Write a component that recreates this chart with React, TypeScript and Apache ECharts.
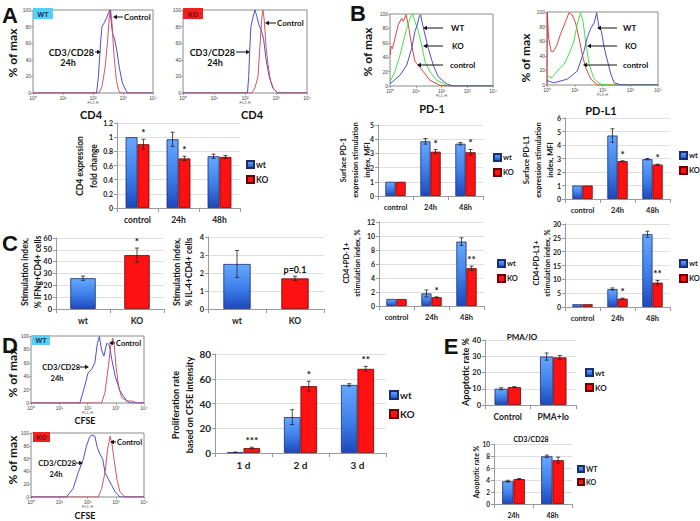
import React, { useEffect, useRef } from "react";
import * as echarts from "echarts";

const FONT = 'Lato, "Liberation Sans", Arial, sans-serif';
const ARIAL = '"Liberation Sans", Arial, sans-serif';
const SUP = ["\u2070", "\u00b9", "\u00b2", "\u00b3", "\u2074"];

// ---------- Flow histograms: [log10 intensity, % of max] ----------
const aWtStim = [[0,0],[2.12,0],[2.18,20],[2.25,60],[2.3,80],[2.38,85],[2.45,90],[2.52,97],[2.56,100],[2.6,88],[2.65,72],[2.72,65],[2.8,50],[2.88,30],[2.98,12],[3.1,3],[3.16,0],[4,0]];
const aWtCtrl = [[0,0],[2.2,0],[2.3,8],[2.4,30],[2.48,60],[2.55,95],[2.59,100],[2.63,85],[2.7,45],[2.78,15],[2.85,4],[2.9,0],[4,0]];
const aKoStim = [[0,0],[2.08,0],[2.12,20],[2.15,50],[2.19,80],[2.25,90],[2.32,100],[2.38,93],[2.45,82],[2.52,76],[2.6,65],[2.68,40],[2.78,20],[2.9,6],[3.06,0],[4,0]];
const aKoCtrl = [[0,0],[2.22,0],[2.32,6],[2.42,20],[2.48,55],[2.54,90],[2.58,100],[2.62,88],[2.68,55],[2.74,35],[2.82,15],[2.92,5],[3.06,0],[4,0]];

const pd1Ctrl = [[0,43],[0.05,55],[0.1,52],[0.19,66],[0.32,85],[0.45,94],[0.52,90],[0.62,99],[0.71,85],[0.84,57],[0.97,34],[1.1,29],[1.29,20],[1.55,8],[1.94,1],[2.3,0],[4,0]];
const pd1Ko = [[0,6],[0.19,20],[0.39,43],[0.52,62],[0.65,80],[0.78,94],[0.88,100],[0.97,90],[1.1,76],[1.23,57],[1.36,34],[1.55,20],[1.81,8],[2.2,1],[2.5,0],[4,0]];
const pd1Wt = [[0,3],[0.39,15],[0.65,29],[0.84,52],[0.97,76],[1.06,85],[1.14,97],[1.19,99],[1.27,85],[1.36,71],[1.49,52],[1.68,29],[1.87,13],[2.2,3],[2.45,0],[4,0]];

const pdl1Ctrl = [[0,0],[0.01,100],[0.06,64],[0.15,46],[0.24,46],[0.36,55],[0.48,69],[0.67,87],[0.79,99],[0.91,96],[1.03,85],[1.15,65],[1.27,42],[1.39,24],[1.58,8],[1.82,0],[4,0]];
const pdl1Ko = [[0,12],[0.18,10],[0.36,19],[0.61,28],[0.79,42],[0.97,60],[1.09,83],[1.21,99],[1.3,87],[1.39,60],[1.52,28],[1.7,8],[1.94,1],[2.2,0],[4,0]];
const pdl1Wt = [[0,6],[0.24,3],[0.73,8],[1.09,19],[1.33,46],[1.45,65],[1.58,78],[1.7,85],[1.79,99],[1.88,78],[1.96,74],[2.06,51],[2.18,33],[2.3,15],[2.42,3],[2.67,0],[4,0]];

const dWtStim = [[0,0],[1.73,0],[1.9,25],[2.02,45],[2.14,50],[2.26,60],[2.35,89],[2.42,99],[2.5,79],[2.58,70],[2.68,89],[2.77,87],[2.86,65],[2.98,40],[3.15,18],[3.39,3],[3.51,0],[4,0]];
const dWtCtrl = [[0,0],[2.5,0],[2.62,16],[2.74,55],[2.82,84],[2.89,97],[2.94,89],[3.01,55],[3.1,25],[3.21,8],[3.39,3],[3.57,3],[3.75,0],[4,0]];
const dKoStim = [[0,0],[1.25,0],[1.49,13],[1.67,38],[1.85,59],[1.96,79],[2.06,92],[2.14,97],[2.26,95],[2.35,77],[2.44,67],[2.54,59],[2.62,38],[2.74,28],[2.86,18],[2.98,8],[3.15,0],[4,0]];
const dKoCtrl = [[0,0],[2.38,0],[2.5,13],[2.62,38],[2.71,74],[2.8,95],[2.86,85],[2.94,59],[3.04,28],[3.15,8],[3.33,0],[4,0]];

const histTicks = [0, 1, 2, 3, 4];

// ---------- Bar charts ----------
const timeCats = ["control", "24h", "48h"];

const aWt = [1.0, 0.97, 0.73];
const aWtErr = [0, 0.1, 0.03];
const aKo = [0.9, 0.7, 0.72];
const aKoErr = [0.07, 0.03, 0.02];
const aKoMarks = ["*", "*", ""];

const pd1BarWt = [1, 3.85, 3.68];
const pd1BarWtErr = [0, 0.2, 0.08];
const pd1BarKo = [1, 3.12, 3.08];
const pd1BarKoErr = [0, 0.15, 0.2];
const pd1Marks = ["", "*", "*"];

const pdl1BarWt = [1, 4.7, 2.95];
const pdl1BarWtErr = [0, 0.5, 0.05];
const pdl1BarKo = [1, 2.8, 2.55];
const pdl1BarKoErr = [0, 0.03, 0.03];
const pdl1Marks = ["", "*", "*"];

const cd4pd1Wt = [1, 1.8, 9.2];
const cd4pd1WtErr = [0, 0.5, 0.55];
const cd4pd1Ko = [1, 1.25, 5.4];
const cd4pd1KoErr = [0, 0.05, 0.3];
const cd4pd1Marks = ["", "*", "**"];

const cd4pdl1Wt = [1, 6.5, 26.3];
const cd4pdl1WtErr = [0, 0.4, 1.1];
const cd4pdl1Ko = [1, 3.0, 8.8];
const cd4pdl1KoErr = [0, 0.2, 0.8];
const cd4pdl1Marks = ["", "*", "**"];

const genoCats = ["wt", "KO"];
const ifngVals = [26, 45.5];
const ifngErr = [1.8, 6];
const ifngMarks = ["", "*"];
const il4Vals = [2.5, 1.7];
const il4Err = [0.75, 0.12];
const il4Marks = ["", "p=0.1"];

const dayCats = ["1 d", "2 d", "3 d"];
const profWt = [0.6, 29, 55];
const profWtErr = [0.2, 6, 1];
const profKo = [4, 54, 68];
const profKoErr = [0.6, 4, 2];
const profMarks = ["***", "*", "**"];

const pmaCats = ["Control", "PMA+Io"];
const pmaWt = [10, 29.8];
const pmaWtErr = [0.6, 2.2];
const pmaKo = [11, 29.3];
const pmaKoErr = [0.3, 1.2];

const cd3Cats = ["24h", "48h"];
const cd3Wt = [3.8, 7.95];
const cd3WtErr = [0.15, 0.2];
const cd3Ko = [4.15, 7.3];
const cd3KoErr = [0.1, 0.5];

// ---------- styling ----------
const BLUE_FILL = {
  type: "linear", x: 0, y: 0, x2: 0, y2: 1,
  colorStops: [
    { offset: 0, color: "#66a8ff" },
    { offset: 0.55, color: "#3c7ee8" },
    { offset: 1, color: "#1d48bd" },
  ],
};
const BLUE_BORDER = "#1c2c6c";
const RED_FILL = "#ff1111";
const RED_BORDER = "#6b0000";
const H_BLUE = "#3a3ac8";
const H_RED = "#c8445a";
const H_GREEN = "#33dd33";
const H_RED2 = "#cc3333";

function buildOption() {
  const grids: any[] = [];
  const xAxes: any[] = [];
  const yAxes: any[] = [];
  const series: any[] = [];
  const legends: any[] = [];
  const graphics: any[] = [];

  const addHist = (left: number, top: number, width: number, height: number, fl: string, lines: [number[][], string][]) => {
    const gi = grids.length;
    grids.push({ left, top, width, height, show: true, borderColor: "#8a8a8a", borderWidth: 1, backgroundColor: "#fff" });
    xAxes.push({
      gridIndex: gi, type: "value", min: 0, max: 4, interval: 1,
      name: fl, nameLocation: "middle", nameGap: 6,
      nameTextStyle: { fontSize: 4, color: "#555", fontFamily: ARIAL },
      axisLine: { show: false },
      axisTick: { show: true, length: 2, lineStyle: { color: "#777", width: 0.6 } },
      axisLabel: { fontSize: 5, color: "#444", margin: 2, fontFamily: ARIAL, formatter: (v: number) => "10" + SUP[histTicks.indexOf(v)] },
      splitLine: { show: false },
    });
    yAxes.push({
      gridIndex: gi, type: "value", min: 0, max: 100, interval: 20,
      axisLine: { show: false },
      axisTick: { show: true, length: 2, lineStyle: { color: "#777", width: 0.6 } },
      axisLabel: { fontSize: 5, color: "#444", margin: 2, fontFamily: ARIAL },
      splitLine: { show: false },
    });
    lines.forEach(([data, color]) => {
      series.push({
        type: "line", xAxisIndex: gi, yAxisIndex: gi, data, symbol: "none", showSymbol: false,
        lineStyle: { width: 0.9, color }, itemStyle: { color }, silent: true, z: 3,
      });
    });
  };

  const errSeries = (gi: number, vals: number[], errs: number[], marks: string[], off: number, markSize: number) => ({
    type: "custom", xAxisIndex: gi, yAxisIndex: gi, silent: true, z: 6, clip: false,
    data: vals.map((v, i) => [i, v, errs[i]]),
    encode: { x: 0, y: 1 },
    renderItem: (params: any, api: any) => {
      const i = api.value(0), v = api.value(1), e = api.value(2);
      const w = api.size([1, 0])[0];
      const x = api.coord([i, v])[0] + off * w;
      const yTop = api.coord([i, v + e])[1];
      const yBot = api.coord([i, v - e])[1];
      const children: any[] = [];
      if (e > 0) {
        const st = { stroke: "#222", lineWidth: 0.8 };
        children.push({ type: "line", shape: { x1: x, y1: yTop, x2: x, y2: yBot }, style: st });
        children.push({ type: "line", shape: { x1: x - 2, y1: yTop, x2: x + 2, y2: yTop }, style: st });
        children.push({ type: "line", shape: { x1: x - 2, y1: yBot, x2: x + 2, y2: yBot }, style: st });
      }
      const m = marks[params.dataIndex];
      if (m) {
        children.push({
          type: "text",
          style: {
            text: m, x, y: yTop - 2, textAlign: "center", textVerticalAlign: "bottom", align: "center", verticalAlign: "bottom",
            fontSize: markSize, fontWeight: "bold", fontFamily: FONT, fill: "#111",
          },
        });
      }
      return { type: "group", children };
    },
  });

  const barAxes = (gi: number, cats: string[], max: number, interval: number, yFont: number, xFont: number) => {
    xAxes.push({
      gridIndex: gi, type: "category", data: cats,
      axisLine: { lineStyle: { color: "#9a9a9a", width: 1 } },
      axisTick: { show: true, length: 4, lineStyle: { color: "#9a9a9a" } },
      axisLabel: { fontSize: xFont, fontWeight: "bold", color: "#222", fontFamily: FONT, margin: 7 },
    });
    yAxes.push({
      gridIndex: gi, type: "value", min: 0, max, interval,
      axisLine: { show: true, lineStyle: { color: "#9a9a9a" } },
      axisTick: { show: true, length: 3, lineStyle: { color: "#9a9a9a" } },
      axisLabel: { fontSize: yFont, fontWeight: "bold", color: "#222", fontFamily: FONT, margin: 4 },
      splitLine: { lineStyle: { color: "#d6d6d6", width: 0.8 } },
    });
  };

  const addBars = (
    box: [number, number, number, number], cats: string[], max: number, interval: number,
    yFont: number, xFont: number, names: [string, string],
    wt: number[], wtErr: number[], ko: number[], koErr: number[], koMarks: string[], markSize: number,
    legend: { left: number; top: number; size: number; gap: number; icon: number } | null
  ) => {
    const gi = grids.length;
    grids.push({ left: box[0], top: box[1], width: box[2], height: box[3] });
    barAxes(gi, cats, max, interval, yFont, xFont);
    const gap = "42%";
    series.push({
      type: "bar", name: names[0], xAxisIndex: gi, yAxisIndex: gi, data: wt, barGap: "0%", barCategoryGap: gap,
      itemStyle: { color: BLUE_FILL, borderColor: BLUE_BORDER, borderWidth: 0.8 }, silent: true,
    });
    series.push({
      type: "bar", name: names[1], xAxisIndex: gi, yAxisIndex: gi, data: ko, barGap: "0%", barCategoryGap: gap,
      itemStyle: { color: RED_FILL, borderColor: RED_BORDER, borderWidth: 0.8 }, silent: true,
    });
    const off = (1 - 0.42) / 4;
    series.push(errSeries(gi, wt, wtErr, wt.map(() => ""), -off, markSize));
    series.push(errSeries(gi, ko, koErr, koMarks, off, markSize));
    if (legend) {
      legends.push({
        data: names, orient: "vertical", left: legend.left, top: legend.top, itemWidth: legend.icon, itemHeight: legend.icon,
        itemGap: legend.gap, icon: "rect", selectedMode: false, padding: 0,
        textStyle: { fontSize: legend.size, fontWeight: "bold", fontFamily: FONT, color: "#222", padding: [0, 0, 0, -3] },
      });
    }
  };

  const addSingleBars = (box: [number, number, number, number], max: number, interval: number, vals: number[], errs: number[], marks: string[], markSize: number) => {
    const gi = grids.length;
    grids.push({ left: box[0], top: box[1], width: box[2], height: box[3] });
    barAxes(gi, genoCats, max, interval, 7.5, 8.5);
    series.push({
      type: "bar", xAxisIndex: gi, yAxisIndex: gi, barCategoryGap: "53%", silent: true,
      data: vals.map((v, i) => ({
        value: v,
        itemStyle: i === 0
          ? { color: BLUE_FILL, borderColor: BLUE_BORDER, borderWidth: 0.8 }
          : { color: RED_FILL, borderColor: RED_BORDER, borderWidth: 0.8 },
      })),
    });
    series.push(errSeries(gi, vals, errs, marks, 0, markSize));
  };

  // Histograms
  addHist(33, 10, 120, 83, "FL2-H", [[aWtStim, H_BLUE], [aWtCtrl, H_RED]]);
  addHist(183, 10, 124, 83, "FL2-H", [[aKoStim, H_BLUE], [aKoCtrl, H_RED]]);
  addHist(390, 14, 103, 72, "FL1-H", [[pd1Ctrl, H_RED2], [pd1Ko, H_GREEN], [pd1Wt, H_BLUE]]);
  addHist(547, 12, 111, 73, "FL3-H", [[pdl1Ctrl, H_RED2], [pdl1Ko, H_GREEN], [pdl1Wt, H_BLUE]]);
  addHist(31, 336, 113, 67, "FL1-H", [[dWtStim, H_BLUE], [dWtCtrl, H_RED]]);
  addHist(31, 433, 113, 64, "FL1-H", [[dKoStim, H_BLUE], [dKoCtrl, H_RED]]);

  // Bars
  addBars([117, 123, 123, 85], timeCats, 1.2, 0.2, 7, 8.5, ["wt", "KO"], aWt, aWtErr, aKo, aKoErr, aKoMarks, 10,
    { left: 246, top: 160, size: 8.5, gap: 6, icon: 7 });
  addBars([378, 125, 105, 71], timeCats, 5, 1, 7, 7.5, ["wt", "KO"], pd1BarWt, pd1BarWtErr, pd1BarKo, pd1BarKoErr, pd1Marks, 10,
    { left: 493, top: 153, size: 7.5, gap: 6, icon: 7 });
  addBars([565, 118, 105, 81], timeCats, 6, 1, 7, 7.5, ["wt", "KO"], pdl1BarWt, pdl1BarWtErr, pdl1BarKo, pdl1BarKoErr, pdl1Marks, 10,
    { left: 679, top: 151, size: 7.5, gap: 6, icon: 7 });
  addBars([379, 222, 105, 84], timeCats, 12, 2, 7, 7.5, ["wt", "KO"], cd4pd1Wt, cd4pd1WtErr, cd4pd1Ko, cd4pd1KoErr, cd4pd1Marks, 10,
    { left: 497, top: 259, size: 7.5, gap: 6, icon: 7 });
  addBars([565, 224, 105, 83], timeCats, 30, 5, 7, 7.5, ["wt", "KO"], cd4pdl1Wt, cd4pdl1WtErr, cd4pdl1Ko, cd4pdl1KoErr, cd4pdl1Marks, 10,
    { left: 679, top: 259, size: 7.5, gap: 6, icon: 7 });
  addSingleBars([56, 238, 108, 71], 60, 10, ifngVals, ifngErr, ifngMarks, 10);
  addSingleBars([208, 237, 116, 72], 4, 1, il4Vals, il4Err, il4Marks, 9);
  addBars([215, 354, 171, 99], dayCats, 80, 20, 10, 10, ["wt", "KO"], profWt, profWtErr, profKo, profKoErr, profMarks, 10,
    { left: 389, top: 390, size: 10, gap: 9, icon: 8 });
  addBars([485, 340, 91, 65], pmaCats, 40, 10, 7.5, 8.5, ["wt", "KO"], pmaWt, pmaWtErr, pmaKo, pmaKoErr, ["", ""], 10,
    { left: 585, top: 368, size: 8, gap: 6, icon: 7 });
  addBars([494, 444, 78, 60], cd3Cats, 10, 2, 6.5, 7, ["WT", "KO"], cd3Wt, cd3WtErr, cd3Ko, cd3KoErr, ["", ""], 10,
    { left: 577, top: 465, size: 7, gap: 5, icon: 6 });

  // ---------- graphic texts ----------
  const t = (text: string, x: number, y: number, size: number, align = "center", font = FONT, fill = "#111") => ({
    type: "text", x, y, z: 100, silent: true,
    style: { text, fontSize: size, fontWeight: "bold", fontFamily: font, fill, textAlign: align, align, textVerticalAlign: "middle", verticalAlign: "middle" },
  });
  const rot = (text: string, x: number, y: number, size: number, lh = size * 1.3) => ({
    type: "text", x, y, z: 100, silent: true, rotation: Math.PI / 2,
    style: { text, fontSize: size, fontWeight: "bold", fontFamily: FONT, fill: "#111", lineHeight: lh, textAlign: "center", align: "center", textVerticalAlign: "middle", verticalAlign: "middle" },
  });
  const arrow = (x1: number, y1: number, x2: number, y2: number) => {
    const d = Math.sign(x2 - x1);
    return [
      { type: "line", z: 100, silent: true, shape: { x1, y1, x2: x2 - d * 2, y2 }, style: { stroke: "#111", lineWidth: 1 } },
      { type: "polygon", z: 100, silent: true, shape: { points: [[x2, y2], [x2 - d * 4, y2 - 2.2], [x2 - d * 4, y2 + 2.2]] }, style: { fill: "#111" } },
    ];
  };
  const box = (x: number, y: number, w: number, h: number, fill: string, label: string, color: string) => [
    { type: "rect", z: 99, silent: true, shape: { x, y, width: w, height: h }, style: { fill } },
    t(label, x + w / 2, y + h / 2 + 0.5, 7, "center", ARIAL, color),
  ];

  graphics.push(
    t("A", 10, 15, 22, "center", ARIAL), t("B", 358, 13, 22, "center", ARIAL), t("C", 10, 243, 22, "center", ARIAL),
    t("D", 10, 345, 22, "center", ARIAL), t("E", 451, 346, 22, "center", ARIAL),
    ...box(33, 8, 20, 11, "#55d0f2", "WT", "#1b2f6b"),
    ...box(183, 8, 20, 11, "#ee2020", "KO", "#7a0a0a"),
    ...box(32, 335, 18, 10, "#55d0f2", "WT", "#1b2f6b"),
    ...box(33, 432, 17, 10, "#ee2020", "KO", "#7a0a0a"),
    rot("% of max", 12, 53, 12), rot("% of max", 367, 52, 12), rot("% of max", 525, 58, 12),
    rot("% of max", 12, 373, 12), rot("% of max", 12, 460, 12),
    t("CD4", 91, 114, 11), t("CD4", 252, 114, 11), t("PD-1", 432, 108, 11), t("PD-L1", 601, 110, 11),
    t("CFSE", 85, 420, 9), t("CFSE", 85, 515, 9),
    // A arrows
    ...arrow(123, 17, 113, 17), t("Control", 124, 17, 8, "left"),
    t("CD3/CD28", 94, 52, 9, "right"), ...arrow(95, 52, 101, 52), t("24h", 68, 62, 9),
    ...arrow(276, 23, 265, 23), t("Control", 277, 23, 8, "left"),
    t("CD3/CD28", 235, 52, 9, "right"), ...arrow(236, 52, 250, 52), t("24h", 215, 62, 9),
    // B arrows
    ...arrow(443, 28, 423, 28), t("WT", 451, 28, 8, "left"),
    ...arrow(443, 46, 423, 46), t("KO", 452, 46, 8, "left"),
    ...arrow(443, 65, 417, 65), t("control", 450, 65, 8, "left"),
    ...arrow(617, 28, 597, 28), t("WT", 623, 28, 8, "left"),
    ...arrow(617, 46, 587, 46), t("KO", 625, 46, 8, "left"),
    ...arrow(617, 65, 583, 65), t("control", 623, 65, 8, "left"),
    // D arrows
    ...arrow(115, 343, 109, 343), t("Control", 116, 343, 7.5, "left"),
    t("CD3/CD28", 80, 367, 7.5, "right"), ...arrow(80, 367, 89, 367), t("24h", 57, 378, 7.5),
    ...arrow(116, 442, 110, 442), t("Control", 117, 442, 7.5, "left"),
    t("CD3/CD28", 76, 463, 7.5, "right"), ...arrow(76, 463, 83, 463), t("24h", 56, 474, 7.5),
    // y-axis names
    rot("CD4 expression\nfold change", 87, 166, 8.5, 14),
    rot("Surface PD-1\nexpression stimulation\nindex, MFI", 355, 160, 7.5, 12),
    rot("Surface PD-L1\nexpression stimulation\nindex, MFI", 538, 160, 7.5, 12),
    rot("CD4+PD-1+\nstimulation index, %", 352, 263, 7.5, 11),
    rot("CD4+PD-L1+\nstimulation index, %", 542, 263, 7.5, 11),
    rot("Stimulation index,\n% IFNg+CD4+ cells", 31, 272, 8.5, 13),
    rot("Stimulation index,\n% IL-4+CD4+ cells", 183, 272, 8.5, 12),
    rot("Proliferation rate\nbased on CFSE intensity", 182, 405, 9, 14),
    rot("Apoptotic rate %", 465, 372, 9),
    rot("Apoptotic rate %", 476, 472, 7),
    t("PMA/IO", 522, 337, 8), t("CD3/CD28", 531, 439, 7)
  );

  return {
    animation: false,
    backgroundColor: "#fff",
    grid: grids,
    xAxis: xAxes,
    yAxis: yAxes,
    legend: legends,
    series,
    graphic: { elements: graphics },
  };
}

export default function App() {
  const ref = useRef<HTMLDivElement>(null);
  useEffect(() => {
    document.body.style.margin = "0";
    const chart = echarts.init(ref.current!, null, { renderer: "svg", width: 700, height: 521 });
    chart.setOption(buildOption() as any);
    return () => chart.dispose();
  }, []);
  return <div ref={ref} style={{ width: 700, height: 521 }} />;
}
